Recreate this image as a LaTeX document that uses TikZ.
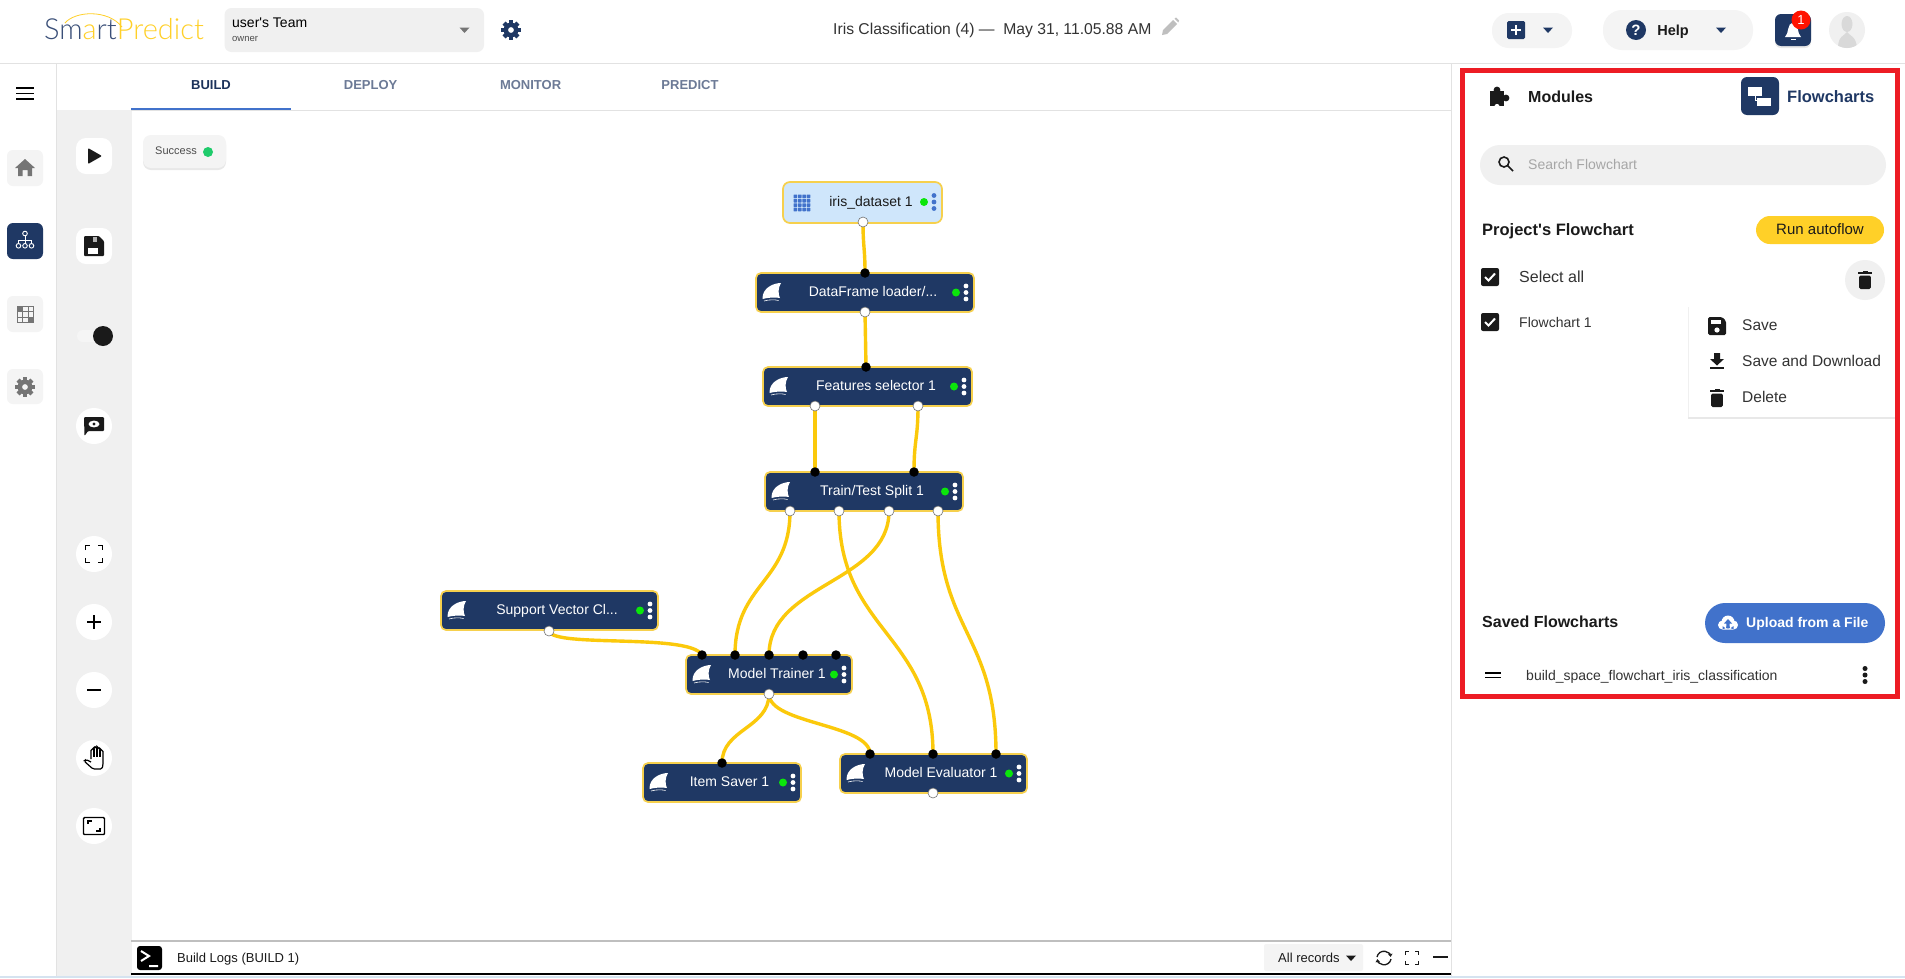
\documentclass[tikz,border=0pt]{standalone}
\usepackage{fontspec}
\setmainfont{Liberation Sans}
\newfontfamily\logofont{Lato Light}
\usetikzlibrary{backgrounds,shadows,arrows.meta}
\definecolor{navy}{HTML}{1F3864}
\definecolor{gold}{HTML}{F6D04D}
\definecolor{wirecol}{HTML}{FBC90B}
\definecolor{panelgrey}{HTML}{F0F0F0}
\definecolor{tilegrey}{HTML}{F4F4F4}
\definecolor{icongrey}{HTML}{757575}
\definecolor{ink}{HTML}{1A1A1A}
\definecolor{bluebtn}{HTML}{4172CB}
\definecolor{framered}{HTML}{ED1C24}
\definecolor{runyellow}{HTML}{FFD028}
\definecolor{rulegrey}{HTML}{E2E2E2}
\definecolor{tabgrey}{HTML}{6C7A96}
\definecolor{dotgreen}{HTML}{0BE60B}
\definecolor{sucgreen}{HTML}{1FCB6B}
\definecolor{irisfill}{HTML}{CFE6FB}
\definecolor{logoblue}{HTML}{3A4F78}
\definecolor{stripblue}{HTML}{D5E3F0}
\newcommand{\fs}[1]{\fontsize{#1}{#1}\selectfont}
\tikzset{
  x=1pt,y=-1pt,
  lab/.style={inner sep=0pt,text depth=0pt,execute at begin node={\rule{0pt}{.72em}}},
  labw/.style={lab,anchor=west},
  boxdark/.style={draw=gold,line width=1.7pt,fill=navy,rounded corners=5pt,inner sep=0pt},
  boxiris/.style={draw=gold,line width=1.7pt,fill=irisfill,rounded corners=7pt,inner sep=0pt},
  boxlabel/.style={lab,font=\fs{14}},
  greendot/.style={circle,fill=dotgreen,minimum size=8pt,inner sep=0pt},
  inport/.style={circle,fill=black,minimum size=9.5pt,inner sep=0pt},
  outport/.style={circle,fill=white,draw=black!55,line width=.6pt,minimum size=10pt,inner sep=0pt},
  wire/.style={draw=wirecol,line width=3.4pt},
  tile/.style={fill=tilegrey,rounded corners=6pt},
  roundbtn/.style={circle,fill=white,minimum size=36pt,inner sep=0pt},
  softshadow/.style={drop shadow={shadow xshift=0pt,shadow yshift=-2pt,opacity=.18}},
  finicon/.pic={
    \fill (9,-9.5) .. controls (2,-9.5) and (-10,-5) .. (-9.5,6.5) .. controls (-4,5) and (3,4.5) .. (8,5.5) .. controls (6,2) and (6,-5) .. (9,-9.5) -- cycle;
    \draw[line width=.6pt] (-8,8.5) .. controls (-3,7) and (3,7) .. (6.5,8);
  },
  gearicon/.pic={
    \foreach \a in {0,45,...,315}{\fill[rotate=\a] (-2.2,-9.8) rectangle (2.2,-5);}
    \fill[even odd rule] (0,0) circle (7.4) (0,0) circle (3);
  },
  careticon/.pic={\fill (-5,-2.5) -- (5,-2.5) -- (0,3) -- cycle;},
  checkicon/.pic={
    \fill[ink,rounded corners=2pt] (-9,-9) rectangle (9,9);
    \draw[white,line width=2pt] (-5,0) -- (-1.5,3.5) -- (5,-3.5);
  },
  trashicon/.pic={
    \fill[rounded corners=1.5pt] (-5.8,-4.5) rectangle (5.8,9);
    \fill (-7,-8) rectangle (7,-5.8);
    \fill (-2.5,-9.5) rectangle (2.5,-7.5);
  }
}
\newcommand{\kebab}[3]{% cx, cy, r
  \fill (#1,#2-6.5) circle (#3) (#1,#2) circle (#3) (#1,#2+6.5) circle (#3);}
\newcommand{\modbox}[7]{% name, x1, y1, x2, y2, label cx, label
  \pgfmathsetmacro\mcx{(#2+#4)/2}\pgfmathsetmacro\mcy{(#3+#5)/2}
  \pgfmathsetmacro\mw{#4-#2}\pgfmathsetmacro\mh{#5-#3}
  \node[boxdark,minimum width=\mw pt,minimum height=\mh pt] (#1) at (\mcx,\mcy) {};
  \pic[white] at (#2+16,\mcy) {finicon};
  \node[boxlabel,text=white] (#1-l) at (#6,\mcy-1) {#7};
  \node[greendot] (#1-d) at (#4-18,\mcy) {};
  \begin{scope}[white]\kebab{#4-8}{\mcy}{2.4}\end{scope}
}
\begin{document}
\begin{tikzpicture}
\useasboundingbox (0,0) rectangle (1905,978);

% ---- frame lines and panels
\fill[panelgrey] (56,110) rectangle (131.5,976);
\draw[rulegrey,line width=1pt] (0,63) -- (1905,63);
\draw[rulegrey,line width=1pt] (56,63) -- (56,976);
\draw[rulegrey,line width=1pt] (131,110) -- (1451,110);
\draw[rulegrey,line width=1pt] (1451,63) -- (1451,976);
\draw[bluebtn,line width=2.4pt] (131,108.8) -- (291,108.8);

% ---- top bar
\node[lab,anchor=west,font=\logofont\fs{29}] (logo) at (44,29) {\textcolor{logoblue}{Sm}\textcolor{runyellow}{a}\textcolor{logoblue}{rt}\textcolor{runyellow}{Predict}};
\draw[runyellow,line width=.8pt] (65,23) .. controls (75,11) and (108,9) .. (122,27);
\fill[panelgrey,rounded corners=7pt] (224.5,8) rectangle (484,52);
\node[labw,font=\fs{14}] (team) at (232,22) {user\textquotesingle s Team};
\node[labw,font=\fs{9.5},text=black!70] (owner) at (232,38) {owner};
\pic[icongrey] at (464.5,30) {careticon};
\pic[navy] at (511,30) {gearicon};
\node[labw,font=\fs{15.7},text=black!80] (title) at (833,29) {Iris Classification (4) —\ \ May 31, 11.05.88 AM};
\begin{scope}[shift={(1170.5,26.5)},fill=black!25]
  \fill (-8.5,8.5) -- (-7.5,3.5) -- (2.5,-6.5) -- (6.5,-2.5) -- (-3.5,7.5) -- cycle;
  \fill (4,-8) -- (5.5,-9) -- (8.5,-6) -- (7.8,-4) -- cycle;
\end{scope}
\fill[tilegrey,rounded corners=17pt] (1492,13) rectangle (1572,48);
\fill[navy,rounded corners=1.5pt] (1507,21) rectangle (1525,39);
\draw[white,line width=2pt] (1511,30) -- (1521,30) (1516,25) -- (1516,35);
\pic[navy] at (1548,30) {careticon};
\fill[tilegrey,rounded corners=19pt] (1603,10) rectangle (1753,50);
\node[circle,fill=navy,minimum size=20pt,inner sep=0pt,text=white,font=\bfseries\fs{15}] (helpq) at (1636,30) {?};
\node[lab,font=\bfseries\fs{14.5},text=ink] (help) at (1673,30) {Help};
\pic[navy] at (1721,30) {careticon};
\fill[navy,rounded corners=6pt,softshadow] (1775,14) rectangle (1811,46);
\begin{scope}[shift={(1793,31)},fill=white]
  \fill (-8,6) .. controls (-4,3) and (-6,-8) .. (0,-8.5) .. controls (6,-8) and (4,3) .. (8,6) -- cycle;
  \fill (-2.5,7.5) rectangle (2.5,9);
\end{scope}
\node[circle,fill=red!85!orange,minimum size=19pt,inner sep=0pt,text=white,font=\fs{13}] (badge) at (1801,20) {1};
\fill[panelgrey] (1847,30) circle (18);
\begin{scope}
  \clip (1847,30) circle (18);
  \fill[black!15] (1847,24) ellipse (5.5 and 8);
  \fill[black!15] (1838,48) .. controls (1838,36) and (1844,36) .. (1847,32) .. controls (1850,36) and (1856,36) .. (1857,48) -- cycle;
\end{scope}

% ---- tabs
\node[lab,font=\bfseries\fs{13},text=navy!90!black] (tbuild) at (211,85) {BUILD};
\node[lab,font=\bfseries\fs{13},text=tabgrey] (tdeploy) at (370.6,85) {DEPLOY};
\node[lab,font=\bfseries\fs{13},text=tabgrey] (tmonitor) at (530.6,85) {MONITOR};
\node[lab,font=\bfseries\fs{13},text=tabgrey] (tpredict) at (690,85) {PREDICT};

% ---- left rail
\draw[black,line width=1.9pt] (16,88) -- (34,88) (16,93.5) -- (34,93.5) (16,99) -- (34,99);
\fill[tile] (7,150) rectangle (43,186);
\fill[icongrey] (25,159) -- (35,168) -- (32,168) -- (32,176) -- (27.5,176) -- (27.5,170) -- (22.5,170) -- (22.5,176) -- (18,176) -- (18,168) -- (15,168) -- cycle;
\fill[navy,rounded corners=6pt] (7,223) rectangle (43,259);
\begin{scope}[shift={(25,240)},draw=white,line width=.9pt]
  \draw (0,-6.5) circle (2.3);
  \draw (0,-4.2) -- (0,3.5) (-6.5,3.5) -- (-6.5,0) -- (6.5,0) -- (6.5,3.5);
  \draw (-6.5,5.8) circle (2.3) (0,5.8) circle (2.3) (6.5,5.8) circle (2.3);
\end{scope}
\fill[tile] (7,296) rectangle (43,332);
\begin{scope}[shift={(25.5,314.5)}]
  \fill[icongrey] (-8.5,-8.5) rectangle (8.5,8.5);
  \foreach \cx/\cy/\col in {-7.6/-7.6/icongrey,-2.1/-7.6/tilegrey,3.4/-7.6/tilegrey,-7.6/-2.1/tilegrey,-2.1/-2.1/tilegrey,3.4/-2.1/tilegrey,-7.6/3.4/tilegrey,-2.1/3.4/tilegrey,3.4/3.4/icongrey}
    {\fill[\col] (\cx,\cy) rectangle +(4.2,4.2);}
\end{scope}
\fill[tile] (7,369) rectangle (43,404);
\pic[icongrey] at (25,387) {gearicon};

% ---- tool column
\fill[white,rounded corners=10pt] (76,138) rectangle (112,174);
\fill[ink,rounded corners=1pt] (88,148) -- (102,156) -- (88,164) -- cycle;
\fill[white,rounded corners=10pt] (76,228) rectangle (112,264);
\fill[ink,rounded corners=1pt] (84,236) -- (99,236) -- (104,241) -- (104,256) -- (84,256) -- cycle;
\fill[black!30] (93,236.5) rectangle (97,241.5);
\fill[white] (87.5,248) rectangle (98,254);
\fill[white!96!black,rounded corners=6pt] (77,330) rectangle (111,342);
\node[circle,fill=ink,minimum size=20pt,inner sep=0pt] (knob) at (103,336) {};
\node[roundbtn] (beye) at (94,426) {};
\fill[ink,rounded corners=1pt] (84,417) -- (104,417) -- (104,431) -- (88,431) -- (84.5,436) -- cycle;
\fill[white] (94,424) ellipse (5.5 and 3.4);
\fill[ink] (94,424) circle (1.6);
\node[roundbtn] (bfull) at (94,554) {};
\begin{scope}[shift={(94,554)},line width=1.7pt,draw=black]
  \draw (-8.5,-4) -- (-8.5,-8.5) -- (-4,-8.5) (4,-8.5) -- (8.5,-8.5) -- (8.5,-4) (8.5,4) -- (8.5,8.5) -- (4,8.5) (-4,8.5) -- (-8.5,8.5) -- (-8.5,4);
\end{scope}
\node[roundbtn] (bplus) at (94,622) {};
\draw[black,line width=1.8pt] (87,622) -- (101,622) (94,615) -- (94,629);
\node[roundbtn] (bminus) at (94,690) {};
\draw[black,line width=1.8pt] (87,690) -- (101,690);
\node[roundbtn] (bhand) at (94,758) {};
\begin{scope}[shift={(94,758)},line width=1.2pt,draw=black]
  \draw[rounded corners=1.5pt] (-3,1) -- (-3,-9) -- (0,-9) -- (0,-11) -- (3,-11) -- (3,-10) -- (6,-10) -- (6,-8) -- (9,-8) -- (9,7) -- (8,11) -- (-1,11) -- (-10,3) -- (-8,1.5) -- (-3,4);
  \draw (0,-9) -- (0,-1) (3,-10) -- (3,-1) (6,-8) -- (6,-1);
\end{scope}
\node[roundbtn] (baspect) at (94,826) {};
\begin{scope}[shift={(94,826)},line width=1.4pt,draw=black]
  \draw[rounded corners=1pt] (-10.5,-8.5) rectangle (10.5,8.5);
  \draw (-6,-2) -- (-6,-5) -- (-2,-5) (6,2) -- (6,5) -- (2,5);
\end{scope}
\fill[tilegrey,rounded corners=8pt,softshadow] (143,135) rectangle (226,168);
\node[lab,font=\fs{11},text=black!70] (succ) at (176,151) {Success};
\node[circle,fill=sucgreen,minimum size=10pt,inner sep=0pt] (succd) at (208,152) {};

% ---- flow nodes
\node[boxiris,minimum width=159pt,minimum height=41pt] (iris) at (862.5,202.5) {};
\begin{scope}[shift={(802,203)},fill=bluebtn]
  \foreach \i in {-8.5,-4.1,0.3,4.7}{\foreach \j in {-8.5,-4.1,0.3,4.7}{\fill[rounded corners=.5pt] (\i,\j) rectangle +(3.6,3.6);}}
\end{scope}
\node[boxlabel,text=ink] (iris-l) at (871,201) {iris\_dataset 1};
\node[greendot] (iris-d) at (924,202) {};
\begin{scope}[bluebtn]\kebab{934}{202}{2.4}\end{scope}
\modbox{df}{756}{273}{974}{312}{873}{DataFrame loader/...}
\modbox{fs}{763}{367}{972}{406}{876}{Features selector 1}
\modbox{tt}{765}{472}{963}{511}{872}{Train/Test Split 1}
\modbox{svc}{441}{591}{658}{630}{557}{Support Vector Cl...}
\modbox{mt}{686}{655}{852}{694}{777}{Model Trainer 1}
\modbox{is}{643}{763}{801}{802}{729.5}{Item Saver 1}
\modbox{me}{840}{754}{1027}{793}{941}{Model Evaluator 1}

% ---- ports
\node[outport] (iris-o) at (863,222) {};
\node[inport] (df-i) at (865,273) {};
\node[outport] (df-o) at (865,312) {};
\node[inport] (fs-i) at (866,367) {};
\node[outport] (fs-o1) at (815,406) {};
\node[outport] (fs-o2) at (918,406) {};
\node[inport] (tt-i1) at (815,472) {};
\node[inport] (tt-i2) at (914,472) {};
\node[outport] (tt-o1) at (790,511) {};
\node[outport] (tt-o2) at (839,511) {};
\node[outport] (tt-o3) at (889,511) {};
\node[outport] (tt-o4) at (938,511) {};
\node[outport] (svc-o) at (549,631) {};
\node[inport] (mt-i1) at (702,655) {};
\node[inport] (mt-i2) at (735,655) {};
\node[inport] (mt-i3) at (769,655) {};
\node[inport] (mt-i4) at (803,655) {};
\node[inport] (mt-i5) at (836,655) {};
\node[outport] (mt-o) at (769,694) {};
\node[inport] (is-i) at (722,763) {};
\node[inport] (me-i1) at (870,754) {};
\node[inport] (me-i2) at (933,754) {};
\node[inport] (me-i3) at (996,754) {};
\node[outport] (me-o) at (933,793) {};

% ---- white page and connectors, under everything else
\begin{scope}[on background layer]
  \fill[white] (0,0) rectangle (1905,978);
  \draw[wire] (iris-o.center) .. controls +(0,25) and +(0,-25) .. (df-i.center);
  \draw[wire] (df-o.center) .. controls +(0,27) and +(0,-27) .. (fs-i.center);
  \draw[wire] (fs-o1.center) .. controls +(0,33) and +(0,-33) .. (tt-i1.center);
  \draw[wire] (fs-o2.center) .. controls +(0,33) and +(0,-33) .. (tt-i2.center);
  \draw[wire] (tt-o1.center) .. controls +(0,72) and +(0,-72) .. (mt-i2.center);
  \draw[wire] (tt-o3.center) .. controls +(0,72) and +(0,-72) .. (mt-i3.center);
  \draw[wire] (tt-o2.center) .. controls +(0,121) and +(0,-121) .. (me-i2.center);
  \draw[wire] (tt-o4.center) .. controls +(0,121) and +(0,-121) .. (me-i3.center);
  \draw[wire] (svc-o.center) .. controls +(4,17) and +(-12,-22) .. (mt-i1.center);
  \draw[wire] (mt-o.center) .. controls +(0,34) and +(0,-34) .. (is-i.center);
  \draw[wire] (mt-o.center) .. controls +(0,30) and +(0,-30) .. (me-i1.center);
\end{scope}

% ---- bottom log bar
\draw[black!25,line width=1.5pt] (131,941) -- (1451,941);
\fill[black,rounded corners=3pt] (137,946) rectangle (162,970);
\draw[white,line width=2pt] (141,951) -- (149,956) -- (141,961) (149,966) -- (158,966);
\node[labw,font=\fs{13},text=ink] (logs) at (177,958) {Build Logs (BUILD 1)};
\fill[tilegrey,rounded corners=2pt] (1264,944) rectangle (1363,971);
\node[labw,font=\fs{13},text=ink] (allrec) at (1278,958) {All records};
\pic[ink] at (1351,958) {careticon};
\begin{scope}[shift={(1384,958)},line width=1.3pt,draw=ink]
  \draw[-{Latex[length=3pt,width=5pt]}] (-7,-1) arc (190:350:7);
  \draw[-{Latex[length=3pt,width=5pt]}] (7,1) arc (10:170:7);
\end{scope}
\begin{scope}[shift={(1412,958)},line width=1.4pt,draw=ink]
  \draw (-6.5,-3) -- (-6.5,-6.5) -- (-3,-6.5) (3,-6.5) -- (6.5,-6.5) -- (6.5,-3) (6.5,3) -- (6.5,6.5) -- (3,6.5) (-3,6.5) -- (-6.5,6.5) -- (-6.5,3);
\end{scope}
\draw[ink,line width=1.6pt] (1433,957) -- (1448,957);
\draw[black,line width=2.4pt] (131,974) -- (1451,974);
\fill[stripblue] (0,976) rectangle (1905,978);

% ---- right panel
\begin{scope}[ink]
  \fill (1490,91) rectangle (1504,106);
  \fill (1497,90) circle (3.4);
  \fill (1506,98) circle (3.4);
  \fill[white] (1497,106.5) circle (2.6);
\end{scope}
\node[labw,font=\bfseries\fs{16},text=ink] (modules) at (1528,97) {Modules};
\fill[navy,rounded corners=6pt] (1741,77) rectangle (1779,115);
\begin{scope}[white]
  \fill (1748,87) rectangle (1762,96);
  \fill (1757,98) rectangle (1771,106);
  \draw[line width=.8pt] (1755,96) -- (1755,100) -- (1757,100);
\end{scope}
\node[labw,font=\bfseries\fs{16.5},text=navy] (flows) at (1787,97) {Flowcharts};
\fill[panelgrey,rounded corners=20pt] (1480,145) rectangle (1886,185);
\begin{scope}[shift={(1506,164)},draw=ink,line width=1.6pt]
  \draw (-2,-2) circle (5);
  \draw (1.6,1.6) -- (7,7);
\end{scope}
\node[labw,font=\fs{14},text=black!35] (search) at (1528,164) {Search Flowchart};
\node[labw,font=\bfseries\fs{16.5},text=ink] (proj) at (1482,230) {Project\textquotesingle s Flowchart};
\fill[runyellow,rounded corners=14pt] (1756,216) rectangle (1884,244);
\node[lab,font=\fs{15},text=ink] (runauto) at (1820,229) {Run autoflow};
\pic at (1490,277) {checkicon};
\node[labw,font=\fs{16},text=black!80] (selall) at (1519,277) {Select all};
\fill[panelgrey] (1865,280) circle (20);
\pic[ink] at (1865,280) {trashicon};
\pic at (1490,322) {checkicon};
\node[labw,font=\fs{14},text=black!80] (fc1) at (1519,322) {Flowchart 1};
\fill[white,softshadow] (1688,307) rectangle (1896,417);
\draw[black!6,line width=1pt] (1688,307) -- (1688,417);
\begin{scope}[shift={(1717,326)}]
  \fill[ink,rounded corners=1.5pt] (-9,-9) -- (5,-9) -- (9,-5) -- (9,9) -- (-9,9) -- cycle;
  \fill[white] (-6,-6.5) rectangle (4,-2);
  \fill[white] (0,4) circle (2.6);
\end{scope}
\node[labw,font=\fs{15.5},text=black!80] (msave) at (1742,325) {Save};
\begin{scope}[shift={(1717,361)},ink]
  \fill (-3,-8) -- (3,-8) -- (3,-2) -- (7,-2) -- (0,4.5) -- (-7,-2) -- (-3,-2) -- cycle;
  \fill (-7,6.3) rectangle (7,8.3);
\end{scope}
\node[labw,font=\fs{15.5},text=black!80] (mdown) at (1742,361) {Save and Download};
\pic[ink] at (1717,398) {trashicon};
\node[labw,font=\fs{15.5},text=black!80] (mdel) at (1742,397) {Delete};
\node[labw,font=\bfseries\fs{16},text=ink] (saved) at (1482,622) {Saved Flowcharts};
\fill[bluebtn,rounded corners=20pt] (1705,603) rectangle (1885,643);
\begin{scope}[shift={(1728,623)}]
  \fill[white] (-5.5,2) circle (4.5) (0,-1) circle (6.5) (5.5,2) circle (4.5) (-5.5,3) rectangle (5.5,6.5);
  \fill[bluebtn] (0,-4) -- (4,0.5) -- (1.6,0.5) -- (1.6,5) -- (-1.6,5) -- (-1.6,0.5) -- (-4,0.5) -- cycle;
\end{scope}
\node[labw,font=\bfseries\fs{14},text=white] (upload) at (1746,622) {Upload from a File};
\draw[black,line width=1.6pt] (1485,673) -- (1501,673) (1485,677.5) -- (1501,677.5);
\node[labw,font=\fs{14},text=black!80] (bsf) at (1526,675) {build\_space\_flowchart\_iris\_classification};
\begin{scope}[ink]\kebab{1865}{675}{2.5}\end{scope}
\node[draw=framered,line width=5pt,minimum width=435pt,minimum height=625.5pt,inner sep=0pt,outer sep=0pt] (redframe) at (1680,383.25) {};
\end{tikzpicture}
\end{document}
